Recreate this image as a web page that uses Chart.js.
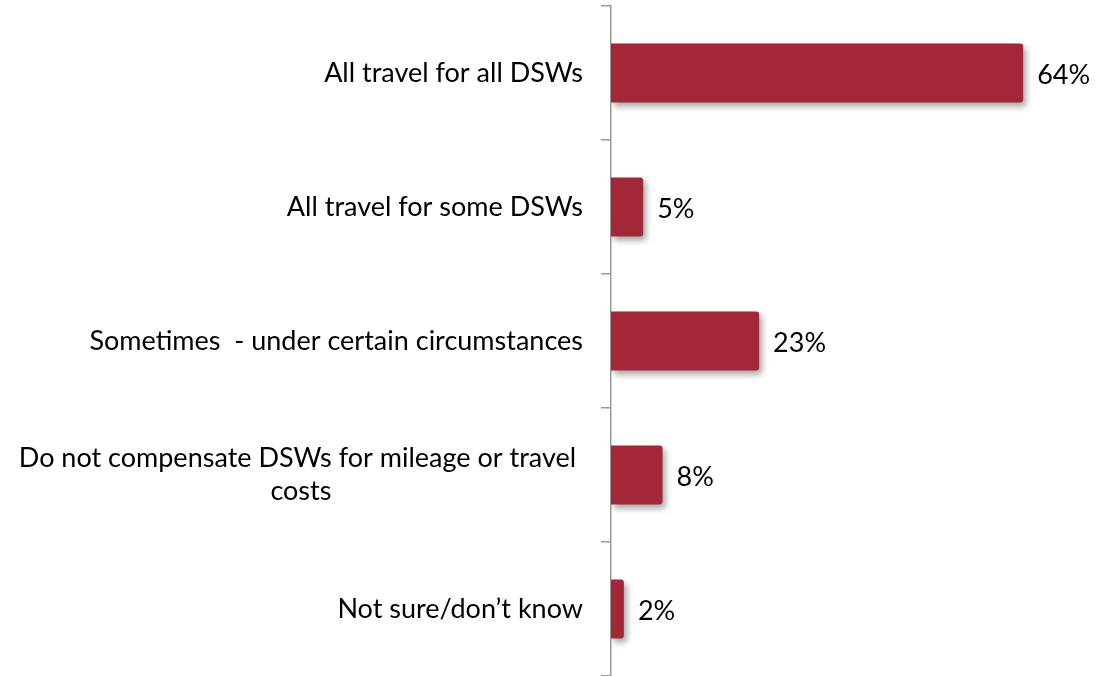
<!DOCTYPE html>
<html>
<head>
<meta charset="utf-8">
<script src="https://cdn.jsdelivr.net/npm/chart.js@4.4.0/dist/chart.umd.min.js"></script>
<style>
  html, body { margin: 0; padding: 0; background: #fff; }
  #wrap { width: 1096px; height: 676px; position: relative; }
</style>
</head>
<body>
<div id="wrap"><canvas id="myChart"></canvas></div>
<script>
// categories (multi-line where the original wraps)
var categories = [
    ['All travel for all DSWs'],
    ['All travel for some DSWs'],
    ['Sometimes  - under certain circumstances'],
    ['Do not compensate DSWs for mileage or travel ', 'costs'],
    ['Not sure/don\u2019t know']
];
var percents = [64, 5, 23, 8, 2];

var labelFont = '27px Lato';

// soft drop shadow under the bars
var barShadow = {
    id: 'barShadow',
    beforeDatasetsDraw: function(chart) {
        var c = chart.ctx;
        c.save();
        c.shadowColor = 'rgba(0,0,0,0.35)';
        c.shadowBlur = 6;
        c.shadowOffsetX = 3;
        c.shadowOffsetY = 4;
    },
    afterDatasetsDraw: function(chart) {
        chart.ctx.restore();
    }
};

// category labels + value labels
var textDraw = {
    id: 'textDraw',
    afterDraw: function(chart) {
        var c = chart.ctx;
        var yScale = chart.scales.y;
        c.save();
        c.font = labelFont;
        c.fillStyle = '#000';
        c.textBaseline = 'middle';
        c.textAlign = 'center';
        var right = chart.chartArea.left - 28;
        var lh = 33;
        categories.forEach(function(lines, i) {
            var yc = yScale.getPixelForTick(i);
            var widest = 0;
            lines.forEach(function(l) { widest = Math.max(widest, c.measureText(l).width); });
            var cx = right - widest / 2;
            var y0 = yc - (lines.length - 1) * lh / 2;
            lines.forEach(function(l, j) {
                c.fillText(l, cx, y0 + j * lh);
            });
        });
        c.textAlign = 'left';
        var meta = chart.getDatasetMeta(0);
        meta.data.forEach(function(bar, i) {
            c.fillText(percents[i] + '%', bar.x + 14, bar.y + 2);
        });
        c.restore();
    }
};

var ctx = document.getElementById('myChart').getContext('2d');
var myChart = new Chart(ctx, {
    type: 'bar',
    data: {
        labels: categories,
        datasets: [{
            data: percents,
            backgroundColor: '#a22838',
            borderWidth: 0,
            borderRadius: 3,
            borderSkipped: 'start',
            barPercentage: 0.44,
            categoryPercentage: 1
        }]
    },
    options: {
        indexAxis: 'y',
        responsive: true,
        maintainAspectRatio: false,
        animation: false,
        layout: { padding: { top: 6, right: 2, bottom: 0, left: 0 } },
        plugins: {
            legend: { display: false },
            tooltip: { enabled: false }
        },
        scales: {
            x: {
                display: false,
                min: 0,
                max: 75
            },
            y: {
                afterFit: function(scale) { scale.width = 611; },
                ticks: { display: false },
                grid: {
                    offset: true,
                    drawOnChartArea: false,
                    drawTicks: true,
                    tickLength: 10,
                    color: '#999',
                    lineWidth: 1.5
                },
                border: { color: '#999', width: 1.5 }
            }
        }
    },
    plugins: [barShadow, textDraw]
});
</script>
</body>
</html>
